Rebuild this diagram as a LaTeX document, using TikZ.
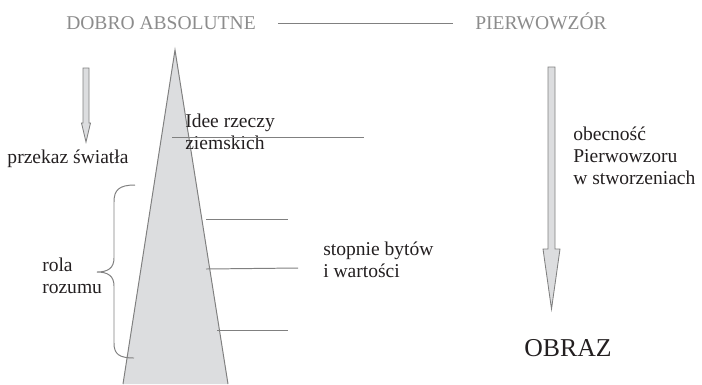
\documentclass[tikz,border=0pt]{standalone}
\usepackage{fontspec}
\setmainfont{Liberation Serif}
\definecolor{ink}{HTML}{231F20}
\definecolor{greytxt}{HTML}{8C8C8C}
\definecolor{rulegrey}{HTML}{808080}
\definecolor{conefill}{HTML}{DCDDDF}
\begin{document}
\begin{tikzpicture}[x=0.025cm, y=-0.025cm,
	txt/.style={text=ink, font=\fontsize{13.9}{15.6}\selectfont, inner sep=0pt},
	lbl/.style={txt, align=left, anchor=base west},
	head/.style={text=greytxt, font=\fontsize{13.9}{15.6}\selectfont, inner ysep=0pt, inner xsep=15.6pt},
	rule/.style={draw=rulegrey, line width=0.7pt},
	block/.style={draw=rulegrey, fill=conefill, line width=0.6pt}]
	\useasboundingbox (0,0) rectangle (702,384);

	% the cone of beings
	\coordinate (apex) at (175,50);
	\coordinate (baseR) at (228,384);
	\coordinate (baseL) at (123,384);
	\fill[conefill] (apex) -- (baseR) -- (baseL) -- cycle;
	\draw[rule] (baseL) -- (apex) -- (baseR);

	% headings
	\node[head, anchor=base] (dobro) at (161,29.5) {DOBRO ABSOLUTNE};
	\node[head, anchor=base] (pierw) at (541,29.5) {PIERWOWZÓR};
	\draw[rule] (dobro.east) -- (dobro.east -| pierw.west);

	% labels (base = last line)
	\node[txt, anchor=base] (przekaz) at (68,163) {przekaz światła};
	\node[lbl] (idee) at (185,149) {Idee rzeczy\\ziemskich};
	\node[lbl] (stopnie) at (323,277) {stopnie bytów\\i wartości};
	\node[lbl] (obecnosc) at (573,184) {obecność\\Pierwowzoru\\w stworzeniach};
	\node[lbl] (rola) at (42,293) {rola\\rozumu};
	\node[txt, anchor=base, font=\fontsize{18.3}{20}\selectfont] (obraz) at (568,356) {OBRAZ};

	% levels on the cone
	\coordinate (i1) at (172,137);
	\coordinate (i2) at (364,137);
	\coordinate (s1) at (206,219);
	\coordinate (e1) at (288,219);
	\coordinate (s2) at (206,269);
	\coordinate (e2) at (298,268);
	\coordinate (s3) at (217,330);
	\coordinate (e3) at (288,330);
	\draw[rule] (i1) -- (i2);
	\draw[rule] (s1) -- (e1);
	\draw[rule] (s2) -- (e2);
	\draw[rule] (s3) -- (e3);

	% brace
	\coordinate (btop) at (135,185);
	\coordinate (btip) at (97,272);
	\coordinate (bbot) at (134,358);
	\draw[rule] (btop) .. controls (119,185) and (114,190) .. (114,202) -- (114,258)
		.. controls (114,268) and (108,272) .. (btip)
		.. controls (108,272) and (114,276) .. (114,286) -- (114,343)
		.. controls (114,354) and (119,358) .. (bbot);

	% block arrows
	\draw[block] (83,68) -- (89,68) -- (89,123) -- (90.5,123) -- (86,142) -- (81.5,123) -- (83,123) -- cycle;
	\draw[block] (548,67) -- (555,67) -- (555,249) -- (560,249) -- (551.5,309) -- (543,249) -- (548,249) -- cycle;
\end{tikzpicture}
\end{document}
